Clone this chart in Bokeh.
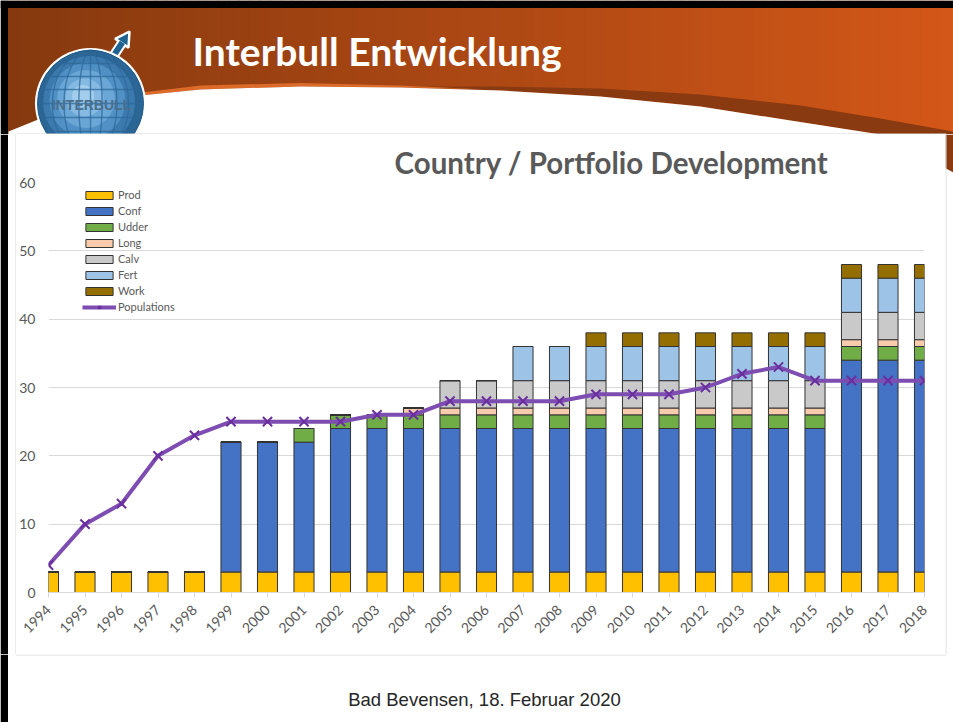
import math
from bokeh.plotting import figure
from bokeh.layouts import column, row
from bokeh.models import Range1d, FixedTicker, ColumnDataSource, Label
from bokeh.embed import file_html
from bokeh.resources import INLINE

# ---------------- data ----------------
years = [1994, 1995, 1996, 1997, 1998, 1999, 2000, 2001, 2002, 2003, 2004, 2005,
         2006, 2007, 2008, 2009, 2010, 2011, 2012, 2013, 2014, 2015, 2016, 2017, 2018]
prod  = [3, 3, 3, 3, 3, 3, 3, 3, 3, 3, 3, 3, 3, 3, 3, 3, 3, 3, 3, 3, 3, 3, 3, 3, 3]
conf  = [0, 0, 0, 0, 0, 19, 19, 19, 21, 21, 21, 21, 21, 21, 21, 21, 21, 21, 21, 21, 21, 21, 31, 31, 31]
udder = [0, 0, 0, 0, 0, 0, 0, 2, 2, 2, 2, 2, 2, 2, 2, 2, 2, 2, 2, 2, 2, 2, 2, 2, 2]
long_ = [0, 0, 0, 0, 0, 0, 0, 0, 0, 0, 1, 1, 1, 1, 1, 1, 1, 1, 1, 1, 1, 1, 1, 1, 1]
calv  = [0, 0, 0, 0, 0, 0, 0, 0, 0, 0, 0, 4, 4, 4, 4, 4, 4, 4, 4, 4, 4, 4, 4, 4, 4]
fert  = [0, 0, 0, 0, 0, 0, 0, 0, 0, 0, 0, 0, 0, 5, 5, 5, 5, 5, 5, 5, 5, 5, 5, 5, 5]
work  = [0, 0, 0, 0, 0, 0, 0, 0, 0, 0, 0, 0, 0, 0, 0, 2, 2, 2, 2, 2, 2, 2, 2, 2, 2]
populations = [4, 10, 13, 20, 23, 25, 25, 25, 25, 26, 26, 28, 28, 28, 28, 29, 29, 29,
               30, 32, 33, 31, 31, 31, 31]
series_names = ["Prod", "Conf", "Udder", "Long", "Calv", "Fert", "Work"]
series_colors = ["#FFC000", "#4472C4", "#70AD47", "#F8CBAD", "#C9C9C9", "#9DC3E6", "#946F00"]
y_ticks = [0, 10, 20, 30, 40, 50, 60]

chart_title = "Country / Portfolio Development"
slide_title = "Interbull Entwicklung"
footer_text = "Bad Bevensen, 18. Februar 2020"

FONT = "Lato"
BOX = "#D9D9D9"
BLACK_W = 7.5


def deco_fig(w, h, x0, x1, y0, y1):
    f = figure(width=w, height=h, x_range=Range1d(x0, x1), y_range=Range1d(y1, y0),
               x_axis_location=None, y_axis_location=None, min_border=0,
               toolbar_location=None, output_backend="svg")
    f.outline_line_color = None
    f.background_fill_color = "white"
    f.border_fill_color = "white"
    f.grid.visible = False
    try:
        f.frame_align = False
    except AttributeError:
        pass
    return f


# ---------------- header (page-pixel coordinates) ----------------
hdr = deco_fig(953, 134, 0, 953, 0, 134)

c0 = (0x86, 0x39, 0x0F)
c1 = (0xD3, 0x57, 0x18)
n = 90
edges = [BLACK_W + (953 - BLACK_W) * i / n for i in range(n + 1)]
cols = []
for i in range(n):
    t = (i + 0.5) / n
    r, g, b = (int(round(c0[k] + (c1[k] - c0[k]) * t)) for k in range(3))
    cols.append("#%02x%02x%02x" % (r, g, b))
hdr.quad(left=edges[:-1], right=[e + 0.8 for e in edges[1:]], top=[0] * n, bottom=[140] * n,
         fill_color=cols, line_color=None)

wx = [8, 60, 120, 200, 300, 400, 500, 600, 700, 790, 880, 953]
wy = [131, 110, 97, 89, 86, 87, 90, 96, 106, 120, 134, 172]
ux = [380, 500, 600, 700, 800, 880, 953]
uy = [86, 86, 88, 94, 105, 118, 131]
band_x = ux + [953] + wx[::-1][:8]
band_y = uy + [172] + wy[::-1][:8]
hdr.patch(band_x, band_y, fill_color="#8A3A10", line_color=None)
hx = [60, 120, 200, 300, 400, 470]
hy = [110, 97, 89, 86, 87, 88.5]
th = [0.5, 2.5, 4, 3.5, 2, 0.3]
hdr.patch(hx + hx[::-1], hy + [y - t for y, t in zip(hy, th)][::-1],
          fill_color="#DC6A28", line_color=None)
hdr.patch(wx + [953, 8], wy + [200, 200], fill_color="white", line_color=None)

# globe + arrow
gx, gy, gr = 90, 103, 53
tip = (129, 31)
base = (106, 66)
dx, dy = tip[0] - base[0], tip[1] - base[1]
L = math.hypot(dx, dy)
ux_, uy_ = dx / L, dy / L
px_, py_ = -uy_, ux_
hl, hw = 14, 8
bc = (tip[0] - hl * ux_, tip[1] - hl * uy_)
head_x = [tip[0], bc[0] + hw * px_, bc[0] - hw * px_]
head_y = [tip[1], bc[1] + hw * py_, bc[1] - hw * py_]
hdr.segment(x0=[base[0]], y0=[base[1]], x1=[bc[0]], y1=[bc[1]], line_color="white", line_width=10)
hdr.patch(head_x, head_y, fill_color="#1F6391", line_color="white", line_width=2.5)
hdr.segment(x0=[base[0]], y0=[base[1]], x1=[bc[0] + ux_], y1=[bc[1] + uy_], line_color="#1F6391", line_width=6)

hdr.ellipse(x=[gx], y=[gy], width=[2 * gr + 5], height=[2 * gr + 5], fill_color="white", line_color=None)
shade_r = [gr, gr - 7, gr - 15, gr - 24, gr - 34, gr - 42]
shade_c = ["#2A6594", "#3C7AAE", "#5190C4", "#6AA6D6", "#86BAE2", "#A3CDEC"]
for k, (rr, cc) in enumerate(zip(shade_r, shade_c)):
    off = k * 1.5
    hdr.ellipse(x=[gx - off], y=[gy - off], width=[2 * rr], height=[2 * rr], fill_color=cc, line_color=None)
for f in [0.22, 0.5, 0.72, 0.9]:
    hdr.ellipse(x=[gx], y=[gy], width=[2 * gr * f], height=[2 * gr], fill_alpha=0,
                line_color="#2D6899", line_alpha=0.75, line_width=1.4)
hdr.segment(x0=[gx], y0=[gy - gr], x1=[gx], y1=[gy + gr], line_color="#2D6899", line_alpha=0.75, line_width=1.4)
par = [-40, -27, -14, 0, 14, 28, 41]
hdr.segment(x0=[gx - math.sqrt(gr ** 2 - d ** 2) for d in par], y0=[gy + d for d in par],
            x1=[gx + math.sqrt(gr ** 2 - d ** 2) for d in par], y1=[gy + d for d in par],
            line_color="#2D6899", line_alpha=0.75, line_width=1.4)
hdr.ellipse(x=[gx], y=[gy], width=[2 * gr], height=[2 * gr], fill_alpha=0, line_color="#1E5A88", line_width=1)
hdr.add_layout(Label(x=gx + 1, y=gy + 1, text="INTERBULL", text_font="Liberation Sans", text_font_style="bold",
                     text_font_size="14px", text_color="#4A6F8E", text_align="center", text_baseline="middle"))
hdr.add_layout(Label(x=192, y=50.5, text=slide_title, text_font=FONT, text_font_style="bold",
                     text_font_size="39px", text_color="white", text_align="left", text_baseline="middle"))
# black slide edges + top edge of chart box
hdr.quad(left=[0, 0], right=[953, BLACK_W], top=[0, 0], bottom=[BLACK_W, 134], fill_color="black", line_color=None)
hdr.segment(x0=[16], y0=[133.5], x1=[945.5], y1=[133.5], line_color=BOX, line_width=1)

# ---------------- side strips ----------------
left = deco_fig(16, 520, 0, 16, 134, 654)
left.quad(left=[0], right=[BLACK_W], top=[134], bottom=[654], fill_color="black", line_color=None)
left.segment(x0=[15.5], y0=[134], x1=[15.5], y1=[654], line_color=BOX, line_width=1)

right = deco_fig(8, 520, 945, 953, 134, 654)
right.patch([945, 953, 953, 945], [134, 134, 172, 167.8], fill_color="#8A3A10", line_color=None)
right.segment(x0=[945.5], y0=[134], x1=[945.5], y1=[654], line_color=BOX, line_width=1)

# ---------------- chart ----------------
p = figure(frame_width=876, frame_height=410,
           min_border_left=32, min_border_right=21, min_border_top=48, min_border_bottom=62,
           x_range=Range1d(1994, 2018), y_range=Range1d(0, 60),
           toolbar_location=None, output_backend="svg")
try:
    p.frame_align = False
except AttributeError:
    pass
p.outline_line_color = None
p.background_fill_color = "white"
p.border_fill_color = "white"

src = ColumnDataSource(dict(x=years, Prod=prod, Conf=conf, Udder=udder, Long=long_,
                            Calv=calv, Fert=fert, Work=work))
p.vbar_stack(series_names, x="x", width=0.55, color=series_colors, source=src,
             line_color="#333333", line_width=1, legend_label=series_names)
p.line(years, populations, line_width=4, line_color="#7E4DB1", legend_label="Populations")
p.scatter(years, populations, marker="x", size=13, line_width=2, line_color="#6A2F9F",
          legend_label="Populations")

p.title.text = chart_title
p.title.align = "right"
p.title.offset = 96
p.title.standoff = 5
p.title.text_font = FONT
p.title.text_font_style = "bold"
p.title.text_font_size = "29.5px"
p.title.text_color = "#595959"

p.xgrid.visible = False
p.ygrid.grid_line_color = "#D9D9D9"
p.ygrid.ticker = FixedTicker(ticks=y_ticks)

p.yaxis.ticker = FixedTicker(ticks=y_ticks)
p.yaxis.axis_line_color = None
p.yaxis.major_tick_line_color = None
p.yaxis.minor_tick_line_color = None
p.yaxis.major_tick_out = 0
p.yaxis.major_label_standoff = 13
p.yaxis.major_label_text_font = FONT
p.yaxis.major_label_text_font_size = "14px"
p.yaxis.major_label_text_color = "#595959"

p.xaxis.ticker = FixedTicker(ticks=years)
p.xaxis.axis_line_color = "#D9D9D9"
p.xaxis.major_tick_line_color = "#D9D9D9"
p.xaxis.minor_tick_line_color = None
p.xaxis.major_tick_out = 5
p.xaxis.major_tick_in = 0
p.xaxis.major_label_standoff = 10
p.xaxis.major_label_orientation = math.pi / 4
p.xaxis.major_label_text_font = FONT
p.xaxis.major_label_text_font_size = "14px"
p.xaxis.major_label_text_color = "#595959"

lg = p.legend[0]
lg.location = (34, 279)
lg.glyph_width = 34
lg.glyph_height = 10
lg.label_height = 10
lg.spacing = 3
lg.padding = 0
lg.margin = 0
lg.label_standoff = 2
lg.label_text_font = FONT
lg.label_text_font_size = "11px"
lg.label_text_color = "#595959"
lg.border_line_color = None
lg.background_fill_alpha = 0

# ---------------- footer ----------------
foot = deco_fig(953, 68, 0, 953, 654, 722)
foot.quad(left=[0], right=[BLACK_W], top=[654], bottom=[722], fill_color="black", line_color=None)
foot.segment(x0=[15.5], y0=[654.5], x1=[945.5], y1=[654.5], line_color=BOX, line_width=1)
foot.add_layout(Label(x=484, y=698.5, text=footer_text, text_font="Liberation Sans",
                      text_font_size="18.5px", text_color="#262626",
                      text_align="center", text_baseline="middle"))

layout = column(hdr, row(left, p, right, spacing=0), foot, spacing=0)
open("out.html", "w").write(file_html(layout, INLINE))
